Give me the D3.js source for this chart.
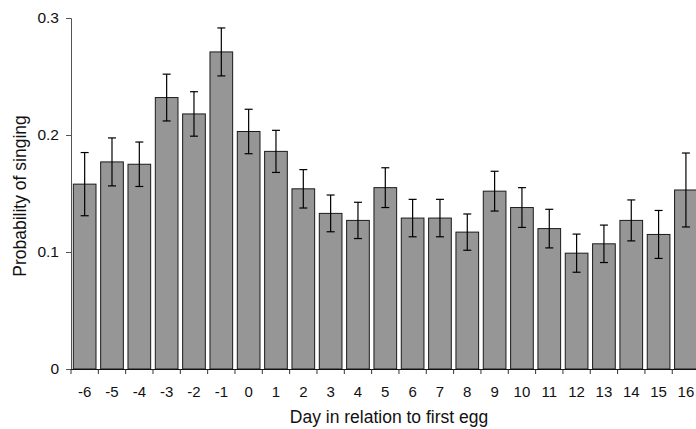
<!DOCTYPE html>
<html>
<head>
<meta charset="utf-8">
<script src="https://cdn.jsdelivr.net/npm/d3@7"></script>
<style>
  body { margin: 0; background: #fff; }
  svg { display: block; font-family: "Liberation Sans", Arial, sans-serif; }
</style>
</head>
<body>
<svg id="chart" width="696" height="429"></svg>
<script>
// days relative to first egg
var days = [-6, -5, -4, -3, -2, -1, 0, 1, 2, 3, 4, 5, 6, 7, 8, 9, 10, 11, 12, 13, 14, 15, 16];
var probSinging = [0.158, 0.177, 0.175, 0.232, 0.218, 0.271, 0.203, 0.186, 0.154, 0.133, 0.127, 0.155,
  0.129, 0.129, 0.117, 0.152, 0.138, 0.120, 0.099, 0.107, 0.127, 0.115, 0.153];
var errSinging = [0.027, 0.0205, 0.019, 0.020, 0.019, 0.0205, 0.019, 0.018, 0.0164, 0.0157, 0.0155, 0.017,
  0.016, 0.016, 0.0155, 0.017, 0.017, 0.0165, 0.0163, 0.016, 0.0175, 0.0205, 0.0316];
var yTicks = [0, 0.1, 0.2, 0.3];

var rows = days.map(function (d, i) {
  return { day: d, value: probSinging[i], err: errSinging[i] };
});

var svg = d3.select("#chart");

var plot = { left: 71, top: 18, bottom: 369, step: 27.33 };

var x = d3.scaleBand()
  .domain(days)
  .range([plot.left, plot.left + plot.step * days.length])
  .paddingInner(0.17)
  .paddingOuter(0.085);

var y = d3.scaleLinear()
  .domain([0, 0.3])
  .range([plot.bottom, plot.top]);

// bars
svg.append("g")
  .selectAll("rect")
  .data(rows)
  .enter()
  .append("rect")
  .attr("x", function (d) { return x(d.day); })
  .attr("y", function (d) { return y(d.value); })
  .attr("width", x.bandwidth())
  .attr("height", function (d) { return y(0) - y(d.value); })
  .attr("fill", "#969696")
  .attr("stroke", "#1a1a1a")
  .attr("stroke-width", 1);

// error bars
var errG = svg.append("g")
  .attr("stroke", "#000")
  .attr("stroke-width", 1.2);

var cx = function (d) { return x(d.day) + x.bandwidth() / 2; };

errG.selectAll("line.v")
  .data(rows)
  .enter()
  .append("line")
  .attr("class", "v")
  .attr("x1", cx).attr("x2", cx)
  .attr("y1", function (d) { return y(d.value + d.err); })
  .attr("y2", function (d) { return y(d.value - d.err); });

errG.selectAll("line.top")
  .data(rows)
  .enter()
  .append("line")
  .attr("class", "top")
  .attr("x1", function (d) { return cx(d) - 4; })
  .attr("x2", function (d) { return cx(d) + 4; })
  .attr("y1", function (d) { return y(d.value + d.err); })
  .attr("y2", function (d) { return y(d.value + d.err); });

errG.selectAll("line.bot")
  .data(rows)
  .enter()
  .append("line")
  .attr("class", "bot")
  .attr("x1", function (d) { return cx(d) - 4; })
  .attr("x2", function (d) { return cx(d) + 4; })
  .attr("y1", function (d) { return y(d.value - d.err); })
  .attr("y2", function (d) { return y(d.value - d.err); });

// y axis
var yAxis = svg.append("g")
  .attr("transform", "translate(" + plot.left + ",0)")
  .call(d3.axisLeft(y)
    .tickValues(yTicks)
    .tickSize(5)
    .tickPadding(7)
    .tickFormat(function (d) { return d === 0 ? "0" : d3.format(".1f")(d); }));
yAxis.select(".domain").attr("stroke", "#555");
yAxis.selectAll(".tick line").attr("stroke", "#555");
yAxis.selectAll("text")
  .attr("font-size", "15.5px")
  .attr("font-family", "Liberation Sans, Arial, sans-serif")
  .attr("fill", "#111");

// x axis: labels centred under bars, ticks at bar boundaries
var xAxis = svg.append("g")
  .attr("transform", "translate(0," + plot.bottom + ")")
  .call(d3.axisBottom(x).tickSize(0).tickPadding(17));
xAxis.select(".domain").attr("stroke", "#111").attr("d", "M" + plot.left + ",0.5H696");
xAxis.selectAll("text")
  .attr("font-size", "15px")
  .attr("font-family", "Liberation Sans, Arial, sans-serif")
  .attr("fill", "#111");

var gap = (x.step() - x.bandwidth()) / 2;
xAxis.selectAll("line.bt")
  .data(days)
  .enter()
  .append("line")
  .attr("class", "bt")
  .attr("x1", function (d) { return x(d) - gap; })
  .attr("x2", function (d) { return x(d) - gap; })
  .attr("y1", 0)
  .attr("y2", 5)
  .attr("stroke", "#333");

// axis titles
svg.append("text")
  .attr("x", 389)
  .attr("y", 423)
  .attr("text-anchor", "middle")
  .attr("font-size", "17.5px")
  .attr("fill", "#111")
  .text("Day in relation to first egg");

svg.append("text")
  .attr("transform", "translate(26,196) rotate(-90)")
  .attr("text-anchor", "middle")
  .attr("font-size", "17.5px")
  .attr("fill", "#111")
  .text("Probability of singing");
</script>
</body>
</html>
